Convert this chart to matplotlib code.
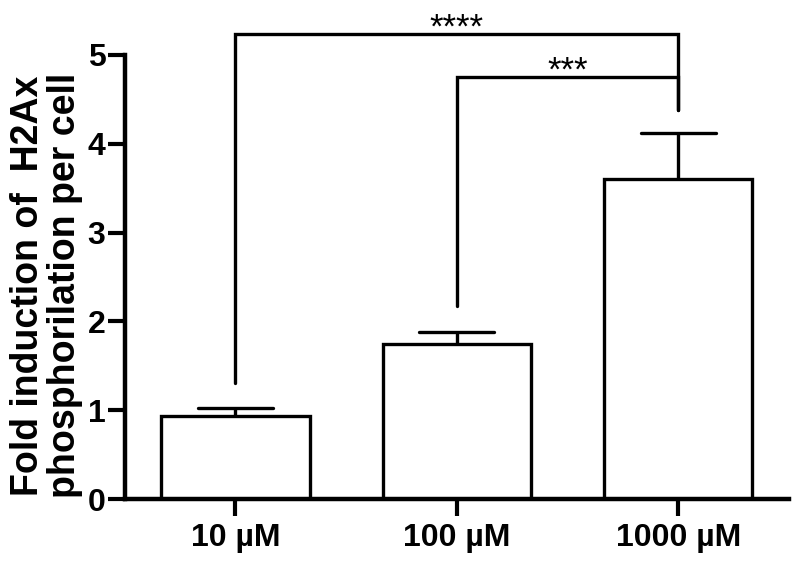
import matplotlib
matplotlib.use("Agg")
import matplotlib.pyplot as plt

categories = ["10 µM", "100 µM", "1000 µM"]
means = [0.93, 1.75, 3.60]
errors = [0.10, 0.13, 0.52]
yticks = [0, 1, 2, 3, 4, 5]
# brackets: (left idx, right idx, bar height, left leg bottom, right leg bottom, label)
brackets = [(0, 2, 5.24, 1.31, 4.38, "****"),
            (1, 2, 4.75, 2.17, 4.38, "***")]

plt.rcParams['font.family'] = ['Liberation Sans', 'DejaVu Sans']

fig = plt.figure(figsize=(8, 5.65), dpi=100)
ax = fig.add_axes([0.156, 0.1168, 0.83, 0.786])

x = list(range(len(categories)))
ax.bar(x, means, width=0.67, color='white', edgecolor='black', linewidth=2.4, zorder=2)
for xi, m, e in zip(x, means, errors):
    ax.plot([xi, xi], [m, m + e], color='black', lw=2.4, solid_capstyle='butt', zorder=1)
    ax.plot([xi - 0.17, xi + 0.17], [m + e, m + e], color='black', lw=2.4,
            solid_capstyle='round', zorder=1)

for l, r, h, lb, rb, lab in brackets:
    ax.plot([l, l, r, r], [lb, h, h, rb], color='black', lw=2.4, clip_on=False,
            solid_capstyle='round', solid_joinstyle='miter')
    ax.text((l + r) / 2, h - 0.04, lab, ha='center', va='baseline', fontsize=25,
            clip_on=False)

ax.set_xlim(-0.5, 2.5)
ax.set_ylim(0, 5)
ax.set_yticks(yticks)
ax.set_yticklabels([str(t) for t in yticks], fontsize=23, fontweight='bold')
ax.set_xticks(x)
ax.set_xticklabels(categories, fontsize=23, fontweight='bold')
ax.tick_params(axis='both', width=3, length=12, color='black')
ax.tick_params(axis='y', pad=2)
ax.tick_params(axis='x', pad=5)
for s in ['top', 'right']:
    ax.spines[s].set_visible(False)
for s in ['left', 'bottom']:
    ax.spines[s].set_linewidth(3.2)
ax.set_ylabel("Fold induction of  H2Ax\nphosphorilation per cell", fontsize=27,
              fontweight='bold', linespacing=1.05)
ax.yaxis.set_label_coords(-0.063, 0.48)

fig.savefig("out.png", dpi=100)
